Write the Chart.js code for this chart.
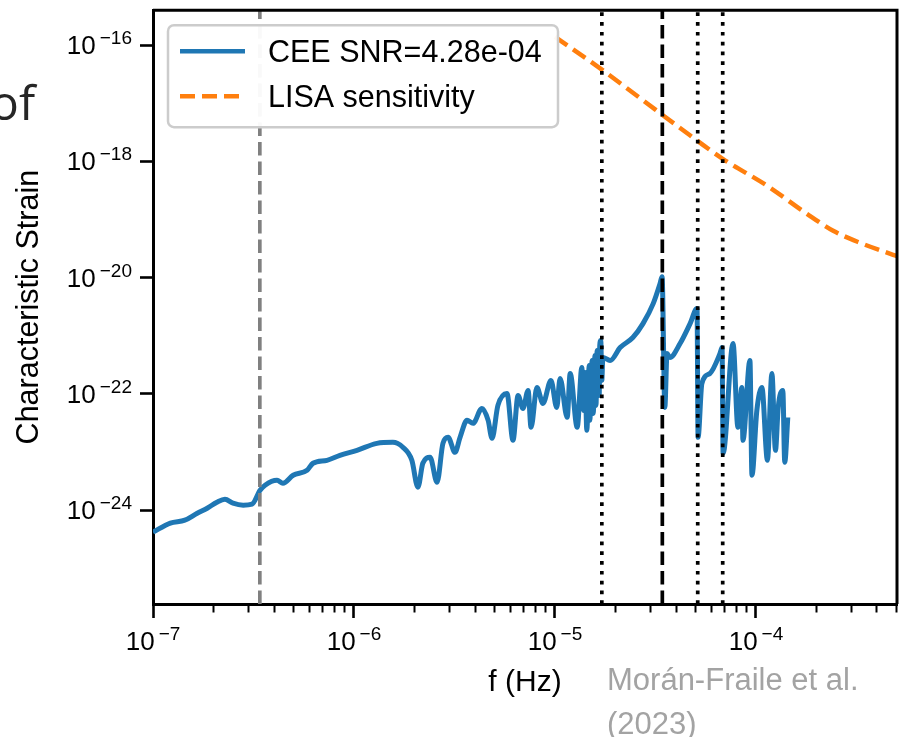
<!DOCTYPE html>
<html lang="en">
<head>
<meta charset="UTF-8">
<title>Characteristic strain</title>
<script src="https://cdn.jsdelivr.net/npm/chart.js@4.4.1/dist/chart.umd.min.js"></script>
<style>
    html, body {
        margin: 0;
        padding: 0;
        background: #fff;
    }

    .chart-container {
        position: relative;
        width: 903px;
        height: 737px;
    }
</style>
</head>
<body>

<div class="chart-container">
    <canvas id="canvas"></canvas>
</div>

<script>
    // CEE characteristic strain
    var ceeFreq = [
        1.0e-7, 1.22e-7, 1.44e-7, 1.66e-7, 1.86e-7, 2.08e-7, 2.28e-7, 2.50e-7, 2.81e-7, 3.11e-7,
        3.41e-7, 3.61e-7, 4.14e-7, 4.43e-7, 4.98e-7, 5.84e-7, 6.25e-7, 7.34e-7, 8.51e-7, 1.035e-6,
        1.30e-6, 1.56e-6, 1.75e-6, 1.94e-6, 2.08e-6, 2.20e-6, 2.39e-6, 2.59e-6, 2.77e-6, 2.94e-6,
        3.18e-6, 3.37e-6, 3.65e-6, 3.91e-6, 4.33e-6, 4.65e-6, 4.86e-6, 5.20e-6, 5.77e-6, 6.18e-6,
        6.55e-6, 6.93e-6, 7.35e-6, 7.60e-6, 8.13e-6, 8.71e-6, 9.55e-6, 1.02e-5, 1.06e-5, 1.15e-5,
        1.19e-5, 1.29e-5, 1.36e-5, 1.39e-5, 1.41e-5, 1.44e-5, 1.48e-5, 1.49e-5, 1.53e-5, 1.55e-5,
        1.58e-5, 1.60e-5, 1.62e-5, 1.66e-5, 1.67e-5, 1.69e-5, 1.71e-5, 1.73e-5, 1.88e-5, 2.11e-5,
        2.44e-5, 2.74e-5, 3.08e-5, 3.33e-5, 3.41e-5, 3.52e-5, 3.61e-5, 3.73e-5, 4.19e-5, 4.70e-5,
        5.09e-5, 5.15e-5, 5.38e-5, 5.90e-5, 6.62e-5, 6.78e-5, 6.86e-5, 7.69e-5, 8.13e-5, 8.51e-5,
        8.61e-5, 9.33e-5, 9.55e-5, 1.01e-4, 1.07e-4, 1.14e-4, 1.20e-4, 1.25e-4, 1.29e-4, 1.36e-4,
        1.39e-4, 1.44e-4
    ];
    var ceeStrain = [
        4.19e-25, 5.98e-25, 6.73e-25, 8.87e-25, 1.08e-24, 1.37e-24, 1.54e-24, 1.32e-24, 1.22e-24, 1.27e-24,
        2.20e-24, 2.69e-24, 3.27e-24, 2.91e-24, 3.99e-24, 4.86e-24, 6.41e-24, 7.21e-24, 8.79e-24, 1.07e-23,
        1.41e-23, 1.47e-23, 1.21e-23, 7.21e-24, 2.48e-24, 6.41e-24, 8.13e-24, 3.03e-24, 1.41e-23, 1.79e-23,
        9.91e-24, 1.79e-23, 3.51e-23, 3.12e-23, 5.64e-23, 3.51e-23, 1.72e-23, 6.35e-23, 1.02e-22, 1.59e-23,
        9.42e-23, 5.64e-23, 1.15e-22, 2.66e-23, 1.29e-22, 6.87e-23, 1.71e-22, 5.86e-23, 1.85e-22, 3.95e-23,
        2.25e-22, 2.66e-23, 2.85e-22, 5.21e-23, 2.34e-22, 2.36e-23, 3.08e-22, 3.51e-23, 3.76e-22, 4.62e-23,
        4.58e-22, 6.35e-23, 5.58e-22, 9.42e-23, 6.81e-22, 8.28e-22, 1.71e-22, 4.24e-22, 3.76e-22, 6.28e-22,
        9.33e-22, 1.62e-21, 3.58e-21, 7.89e-21, 1.04e-20, 5.86e-23, 4.95e-22, 4.24e-22, 7.36e-22, 1.62e-21,
        2.94e-21, 1.79e-23, 1.51e-22, 2.25e-22, 4.95e-22, 6.28e-22, 9.52e-24, 7.36e-22, 2.66e-23, 1.29e-22,
        1.59e-23, 3.76e-22, 3.99e-24, 5.21e-23, 1.29e-22, 7.21e-24, 2.25e-22, 1.07e-23, 5.86e-23, 1.15e-22,
        6.67e-24, 3.95e-23
    ];

    // LISA sensitivity curve
    var lisaFreq = [1.0e-5, 1.67e-5, 2.65e-5, 4.19e-5, 6.86e-5, 1.14e-4, 1.79e-4, 2.42e-4, 3.29e-4, 4.81e-4, 5.03e-4];
    var lisaStrain = [1.39e-16, 4.03e-17, 1.23e-17, 3.76e-18, 1.10e-18, 3.79e-19, 1.26e-19, 6.41e-20, 3.99e-20, 2.48e-20, 2.35e-20];

    // vertical markers (Hz)
    var grayLines = [3.4e-7];
    var dashedLines = [3.42e-5];
    var dottedLines = [1.71e-5, 5.13e-5, 6.83e-5];

    // axes
    var xRange = [1e-7, 5.03e-4];
    var yRange = [2.43e-26, 4e-16];
    var xMajorTicks = [1e-7, 1e-6, 1e-5, 1e-4];
    var yMajorTicks = [1e-16, 1e-18, 1e-20, 1e-22, 1e-24];

    var xTicks = [];
    xMajorTicks.forEach(function (d) {
        for (var m = 1; m <= 9; m++) {
            if (d * m <= xRange[1]) xTicks.push({value: d * m, major: m === 1});
        }
    });

    function toPoints(xs, ys) {
        return xs.map(function (x, i) {
            return {x: x, y: ys[i]};
        });
    }

    function vline(x, color, dash) {
        return {
            data: [{x: x, y: yRange[0]}, {x: x, y: yRange[1]}],
            borderColor: color,
            borderWidth: 3.7,
            borderDash: dash,
            pointRadius: 0,
            order: 0,
            inLegend: false
        };
    }

    var datasets = [{
        label: 'CEE SNR=4.28e-04',
        data: toPoints(ceeFreq, ceeStrain),
        borderColor: '#1f77b4',
        borderWidth: 5,
        pointRadius: 0,
        cubicInterpolationMode: 'monotone',
        borderJoinStyle: 'round',
        order: 2,
        inLegend: true
    }, {
        label: 'LISA sensitivity',
        data: toPoints(lisaFreq, lisaStrain),
        borderColor: '#ff7f0e',
        borderWidth: 4.5,
        borderDash: [15, 7],
        pointRadius: 0,
        cubicInterpolationMode: 'monotone',
        order: 1,
        inLegend: true
    }];
    grayLines.forEach(function (x) { datasets.push(vline(x, '#808080', [13.5, 6])); });
    dashedLines.forEach(function (x) { datasets.push(vline(x, '#000000', [13.5, 6])); });
    dottedLines.forEach(function (x) { datasets.push(vline(x, '#000000', [3.7, 6.1])); });

    var FONT = '"Liberation Sans", Arial, sans-serif';

    // 10^n labels with a raised exponent, placed with the scale
    function drawPower(ctx, v, x, y, align) {
        var exp = Math.round(Math.log10(v));
        var base = '10';
        var sup = (exp < 0 ? '\u2212' : '') + Math.abs(exp);
        ctx.font = '26px ' + FONT;
        var wb = ctx.measureText(base).width;
        ctx.font = '19px ' + FONT;
        var ws = ctx.measureText(sup).width;
        var total = wb + 4 + ws;
        var left = align === 'center' ? x - total / 2 : x - total;
        ctx.textAlign = 'left';
        ctx.font = '26px ' + FONT;
        ctx.fillText(base, left, y);
        ctx.font = '19px ' + FONT;
        ctx.fillText(sup, left + wb + 4, y - 10);
    }

    var powerLabels = {
        id: 'powerLabels',
        afterDraw: function (chart) {
            var ctx = chart.ctx;
            var xs = chart.scales.x, ys = chart.scales.y;
            ctx.save();
            ctx.fillStyle = '#000';
            ctx.textBaseline = 'alphabetic';
            xMajorTicks.forEach(function (v) {
                drawPower(ctx, v, xs.getPixelForValue(v), xs.top + 46, 'center');
            });
            yMajorTicks.forEach(function (v) {
                drawPower(ctx, v, ys.right - 21, ys.getPixelForValue(v) + 9, 'right');
            });
            ctx.restore();
        }
    };

    // top and right spines
    var frame = {
        id: 'frame',
        afterDraw: function (chart) {
            var a = chart.chartArea, ctx = chart.ctx;
            ctx.save();
            ctx.strokeStyle = '#000';
            ctx.lineWidth = 3;
            ctx.beginPath();
            ctx.moveTo(a.left, a.top);
            ctx.lineTo(a.right, a.top);
            ctx.lineTo(a.right, a.bottom);
            ctx.stroke();
            ctx.restore();
        }
    };

    // matplotlib-like framed legend in the upper left of the axes
    var boxLegend = {
        id: 'boxLegend',
        afterDraw: function (chart) {
            var a = chart.chartArea, ctx = chart.ctx;
            var left = a.left + 15, top = a.top + 15;
            ctx.save();
            ctx.beginPath();
            ctx.roundRect(left, top, 390, 102, 6);
            ctx.fillStyle = 'rgba(255,255,255,0.95)';
            ctx.fill();
            ctx.strokeStyle = '#cccccc';
            ctx.lineWidth = 2.5;
            ctx.stroke();
            var items = chart.data.datasets.filter(function (d) { return d.inLegend; });
            items.forEach(function (d, i) {
                var y = top + 26 + i * 45;
                ctx.beginPath();
                ctx.setLineDash(d.borderDash || []);
                ctx.strokeStyle = d.borderColor;
                ctx.lineWidth = 4.5;
                ctx.moveTo(left + 12, y);
                ctx.lineTo(left + 77, y);
                ctx.stroke();
                ctx.setLineDash([]);
                ctx.fillStyle = '#000';
                ctx.font = '30.5px ' + FONT;
                ctx.textAlign = 'left';
                ctx.textBaseline = 'alphabetic';
                ctx.fillText(d.label, left + 100, y + 11);
            });
            ctx.restore();
        }
    };

    // text of the surrounding slide
    var slideText = {
        id: 'slideText',
        afterDraw: function (chart) {
            var ctx = chart.ctx;
            ctx.save();
            ctx.textAlign = 'left';
            ctx.textBaseline = 'alphabetic';
            ctx.fillStyle = '#262626';
            ctx.font = '48px "Open Sans", "Noto Sans", sans-serif';
            ctx.fillText('of', -10, 120);
            ctx.fillStyle = '#a3a3a3';
            ctx.font = '31px ' + FONT;
            ctx.fillText('Morán-Fraile et al.', 607, 690);
            ctx.fillText('(2023)', 607, 734);
            ctx.restore();
        }
    };

    window.onload = function () {
        var ctx = document.getElementById('canvas').getContext('2d');
        window.myChart = new Chart(ctx, {
            type: 'line',
            data: {datasets: datasets},
            plugins: [frame, powerLabels, boxLegend, slideText],
            options: {
                responsive: true,
                maintainAspectRatio: false,
                animation: false,
                layout: {padding: {left: 0, right: 6, top: 9, bottom: 0}},
                plugins: {
                    legend: {display: false},
                    tooltip: {enabled: false}
                },
                scales: {
                    x: {
                        type: 'logarithmic',
                        min: xRange[0],
                        max: xRange[1],
                        bounds: 'data',
                        afterBuildTicks: function (scale) {
                            scale.ticks = xTicks.map(function (t) { return {value: t.value, major: t.major}; });
                        },
                        afterFit: function (scale) { scale.height = 133; },
                        ticks: {
                            autoSkip: false,
                            maxRotation: 0,
                            callback: function () { return ''; }
                        },
                        grid: {
                            drawOnChartArea: false,
                            tickLength: 14,
                            tickColor: '#000',
                            tickWidth: function (c) { return c.tick && c.tick.major ? 2.6 : 2; },
                            tickBorderDash: function (c) { return c.tick && c.tick.major ? [] : [6.5, 40]; }
                        },
                        border: {color: '#000', width: 3},
                        title: {
                            display: true,
                            text: 'f (Hz)',
                            color: '#000',
                            font: {family: FONT, size: 30},
                            padding: {top: 0, bottom: 36}
                        }
                    },
                    y: {
                        type: 'logarithmic',
                        min: yRange[0],
                        max: yRange[1],
                        bounds: 'data',
                        afterBuildTicks: function (scale) {
                            scale.ticks = yMajorTicks.map(function (v) { return {value: v, major: true}; });
                        },
                        afterFit: function (scale) { scale.width = 153; },
                        ticks: {
                            autoSkip: false,
                            callback: function () { return ''; }
                        },
                        grid: {
                            drawOnChartArea: false,
                            tickLength: 13,
                            tickColor: '#000',
                            tickWidth: 2.6
                        },
                        border: {color: '#000', width: 3},
                        title: {
                            display: true,
                            text: 'Characteristic Strain',
                            color: '#000',
                            font: {family: FONT, size: 30.5},
                            padding: {top: 11, bottom: 0}
                        }
                    }
                }
            }
        });
    };
</script>
</body>
</html>
